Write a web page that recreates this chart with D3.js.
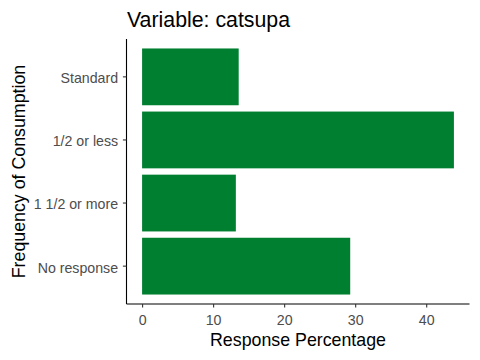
<!DOCTYPE html>
<html>
<head>
<meta charset="utf-8">
<script src="https://cdn.jsdelivr.net/npm/d3@7"></script>
<style>
  body { margin: 0; background: #fff; }
  svg { display: block; font-family: "Liberation Sans", Arial, sans-serif; }
</style>
</head>
<body>
<svg id="chart" width="480" height="360"></svg>
<script>
const categories = ["Standard", "1/2 or less", "1 1/2 or more", "No response"];
const values = [13.6, 43.9, 13.2, 29.3];
const xTicks = [0, 10, 20, 30, 40];
const titleText = "Variable: catsupa";
const xTitle = "Response Percentage";
const yTitle = "Frequency of Consumption";

const svg = d3.select("#chart");
const W = 480, H = 360;
const panel = { left: 126.5, right: 469.5, top: 39, bottom: 304 };

const maxV = d3.max(values);
const pad = maxV * 0.05;
const x = d3.scaleLinear().domain([0 - pad, maxV + pad]).range([panel.left, panel.right]);
const y = d3.scaleBand().domain(categories).range([panel.top, panel.bottom])
  .paddingInner(0.1).paddingOuter(0.15);

const data = categories.map((c, i) => ({ c, v: values[i] }));

svg.append("rect").attr("width", W).attr("height", H).attr("fill", "#fff");

svg.append("g").selectAll("rect").data(data).join("rect")
  .attr("x", x(0))
  .attr("y", d => y(d.c))
  .attr("width", d => x(d.v) - x(0))
  .attr("height", y.bandwidth())
  .attr("fill", "#007f31");

// x axis
const xAxis = svg.append("g")
  .attr("transform", `translate(0,${panel.bottom})`)
  .call(d3.axisBottom(x).tickValues(xTicks).tickSize(3.6).tickPadding(7.4).tickSizeOuter(0));
xAxis.select(".domain").attr("stroke", "#000").attr("stroke-width", 1.1)
  .attr("d", `M${panel.left},0H${panel.right}`);
xAxis.selectAll(".tick line").attr("stroke", "#333").attr("stroke-width", 1.1);
xAxis.selectAll(".tick text").attr("fill", "#4d4d4d").attr("font-size", 14.2)
  .attr("font-family", "Liberation Sans, Arial, sans-serif");

// y axis
const yAxis = svg.append("g")
  .attr("transform", `translate(${panel.left},0)`)
  .call(d3.axisLeft(y).tickSize(3.6).tickPadding(4.8).tickSizeOuter(0));
yAxis.select(".domain").attr("stroke", "#000").attr("stroke-width", 1.1)
  .attr("d", `M0,${panel.top}V${panel.bottom}`);
yAxis.selectAll(".tick line").attr("stroke", "#333").attr("stroke-width", 1.1);
yAxis.selectAll(".tick text").attr("fill", "#4d4d4d").attr("font-size", 14.2)
  .attr("dy", "0.45em")
  .attr("font-family", "Liberation Sans, Arial, sans-serif");

// titles
svg.append("text").attr("x", 127).attr("y", 27)
  .attr("font-size", 21.3).attr("fill", "#000").text(titleText);

svg.append("text").attr("x", (panel.left + panel.right) / 2).attr("y", 346)
  .attr("text-anchor", "middle").attr("font-size", 17.8).attr("fill", "#000").text(xTitle);

svg.append("text")
  .attr("transform", `translate(25,${(panel.top + panel.bottom) / 2}) rotate(-90)`)
  .attr("text-anchor", "middle").attr("font-size", 17.8).attr("fill", "#000").text(yTitle);
</script>
</body>
</html>
